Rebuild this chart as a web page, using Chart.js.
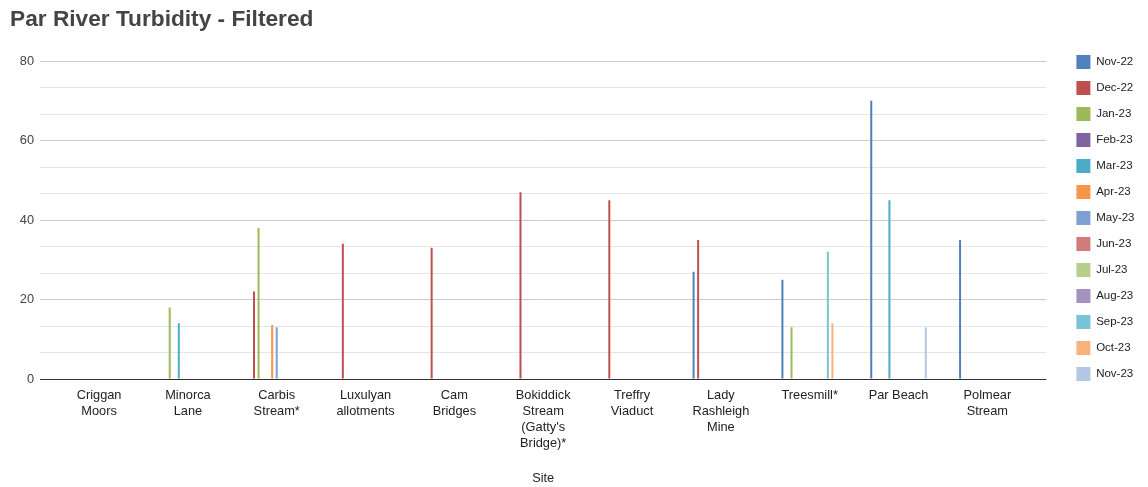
<!DOCTYPE html>
<html>
<head>
<meta charset="utf-8">
<script src="https://cdn.jsdelivr.net/npm/chart.js@4/dist/chart.umd.min.js"></script>
<style>
  html, body { margin: 0; padding: 0; background: #ffffff; }
  #wrap { width: 1148px; height: 487px; position: relative; }
</style>
</head>
<body>
<div id="wrap"><canvas id="c"></canvas></div>
<script>
// ---- data ----
const siteLabels = [
  ['Criggan', 'Moors'],
  ['Minorca', 'Lane'],
  ['Carbis', 'Stream*'],
  ['Luxulyan', 'allotments'],
  ['Cam', 'Bridges'],
  ['Bokiddick', 'Stream', "(Gatty's", 'Bridge)*'],
  ['Treffry', 'Viaduct'],
  ['Lady', 'Rashleigh', 'Mine'],
  ['Treesmill*'],
  ['Par Beach'],
  ['Polmear', 'Stream']
];
const months = ['Nov-22', 'Dec-22', 'Jan-23', 'Feb-23', 'Mar-23', 'Apr-23', 'May-23',
                'Jun-23', 'Jul-23', 'Aug-23', 'Sep-23', 'Oct-23', 'Nov-23'];
//              Crig  Mino  Carb  Luxu  Cam   Boki  Tref  Lady  Tree  ParB  Polm
const nov22 = [null, null, null, null, null, null, null, 27,   25,   70,   35  ];
const dec22 = [null, null, 22,   34,   33,   47,   45,   35,   null, null, null];
const jan23 = [null, 18,   38,   null, null, null, null, null, 13,   null, null];
const feb23 = [null, null, null, null, null, null, null, null, null, null, null];
const mar23 = [null, 14,   null, null, null, null, null, null, null, 45,   null];
const apr23 = [null, null, 13.6, null, null, null, null, null, null, null, null];
const may23 = [null, null, 13,   null, null, null, null, null, null, null, null];
const jun23 = [null, null, null, null, null, null, null, null, null, null, null];
const jul23 = [null, null, null, null, null, null, null, null, null, null, null];
const aug23 = [null, null, null, null, null, null, null, null, null, null, null];
const sep23 = [null, null, null, null, null, null, null, null, 32,   null, null];
const oct23 = [null, null, null, null, null, null, null, null, 14,   null, null];
const nov23 = [null, null, null, null, null, null, null, null, null, 13,   null];
const seriesValues = [nov22, dec22, jan23, feb23, mar23, apr23, may23, jun23, jul23, aug23, sep23, oct23, nov23];
const yTickLabels = [0, 20, 40, 60, 80];

// ---- styles ----
const colors = ['#4f81bd', '#c0504d', '#9bbb59', '#8064a2', '#4bacc6', '#f79646', '#7ea1d4',
                '#d27b79', '#b6d08b', '#a592c0', '#79c3d6', '#f9b27b', '#b4c8e6'];

Chart.defaults.font.family = "'Liberation Sans', Arial, sans-serif";

const datasets = months.map((m, k) => ({
  label: m,
  data: seriesValues[k].map((v, i) => ({ x: i, y: v })),
  backgroundColor: colors[k],
  borderWidth: 0,
  categoryPercentage: 0.665,
  barPercentage: 0.5,
  maxBarThickness: 2
}));

new Chart(document.getElementById('c'), {
  type: 'bar',
  data: { datasets },
  options: {
    responsive: true,
    maintainAspectRatio: false,
    animation: false,
    devicePixelRatio: 1,
    layout: { padding: { left: 10, right: 3.5, top: 0, bottom: 0 } },
    plugins: {
      title: {
        display: true,
        text: 'Par River Turbidity - Filtered',
        align: 'start',
        color: '#444444',
        font: { size: 22.7, weight: 'bold', lineHeight: 1.2 },
        padding: { top: 6.5, bottom: 27.3 }
      },
      legend: {
        position: 'right',
        align: 'start',
        title: {
          display: true,
          text: ' ',
          font: { size: 12, lineHeight: 1.25 },
          padding: { top: 28, bottom: 0 }
        },
        labels: {
          boxWidth: 14,
          boxHeight: 14,
          padding: 12,
          color: '#222222',
          font: { size: 11.5 }
        }
      },
      tooltip: { enabled: false }
    },
    scales: {
      x: {
        type: 'linear',
        offset: false,
        min: -0.665,
        max: 10.665,
        afterBuildTicks: (s) => { s.ticks = siteLabels.map((_, i) => ({ value: i })); },
        grid: { display: false, drawTicks: false },
        border: { display: false },
        ticks: {
          autoSkip: false,
          maxRotation: 0,
          padding: 8,
          color: '#222222',
          font: { size: 12.8, lineHeight: 1.25 },
          callback: (v) => siteLabels[Math.round(v)] || ''
        },
        title: {
          display: true,
          text: 'Site',
          color: '#222222',
          font: { size: 12.8, lineHeight: 1.25 },
          padding: { top: 11, bottom: 1 }
        }
      },
      y: {
        min: 0,
        max: 80,
        ticks: {
          stepSize: 20 / 3,
          padding: 6,
          color: '#444444',
          font: { size: 12.8 },
          callback: (v) => {
            const r = Math.round(v);
            return (Math.abs(v - r) < 1e-6 && yTickLabels.includes(r)) ? r : '';
          }
        },
        afterFit: (s) => { s.width = 30; },
        border: { display: false },
        grid: {
          drawTicks: false,
          lineWidth: 1,
          color: (ctx) => {
            const v = ctx.tick ? ctx.tick.value : 1;
            if (Math.abs(v) < 1e-6) return '#333333';
            const r = Math.round(v);
            if (Math.abs(v - r) < 1e-6 && yTickLabels.includes(r)) return '#cccccc';
            return '#e6e6e6';
          }
        }
      },
      gap: {
        type: 'linear',
        position: 'right',
        display: true,
        grid: { display: false, drawTicks: false },
        border: { display: false },
        ticks: { display: false },
        afterFit: (s) => { s.width = 18; }
      }
    }
  }
});
</script>
</body>
</html>
